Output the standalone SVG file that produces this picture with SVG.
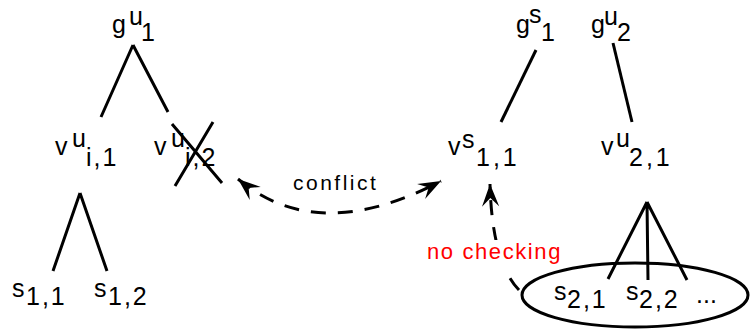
<svg xmlns="http://www.w3.org/2000/svg" width="750" height="330" viewBox="0 0 750 330">
<style>
text{font-family:"Liberation Sans",Arial,sans-serif;font-size:25px;fill:#000}
.sub{letter-spacing:2px}
.edge{stroke:#000;stroke-width:3;fill:none;stroke-linecap:butt}
.dash{stroke:#000;stroke-width:3;fill:none;stroke-dasharray:15 12}
.lbl{font-size:21px;letter-spacing:2.5px}
.red{font-size:22px;letter-spacing:1.6px;fill:#f00}
</style>
<defs>
<marker id="ah" markerUnits="userSpaceOnUse" markerWidth="30" markerHeight="30" viewBox="-24 -12 28 24" refX="0" refY="0" orient="auto-start-reverse">
<path d="M0,0 L-21,-8 L-13,0 L-21,8 Z" fill="#000"/>
</marker>
</defs>
<rect width="750" height="330" fill="#fff"/>
<g id="connectors">
<path class="edge" d="M133,45 L101,117 M133,45 L168,112"/>
<path class="edge" d="M80,193 L53,271 M80,193 L107,271"/>
<path class="edge" d="M536,50 L501,122"/>
<path class="edge" d="M613,43 L632,122"/>
<path class="edge" d="M647,202 L608,279 M647,202 L648,280 M647,202 L687,280"/>
<path class="dash" d="M238,179 Q318,246 441,181" marker-start="url(#ah)" marker-end="url(#ah)"/>
<path class="dash" d="M519,290 Q492,262 490,184" marker-end="url(#ah)"/>
</g>
<g id="gu1"><text x="112" y="33">g</text><text x="129" y="25">u</text><text x="141" y="41">1</text></g>
<g id="vui1"><text x="55" y="155">v</text><text x="72" y="147">u</text><text class="sub" x="86" y="166">i,1</text></g>
<g id="vui2"><text x="154" y="155">v</text><text x="171" y="147">u</text><text class="sub" x="185" y="166">i,2</text>
<path class="edge" d="M172,124 L222,183 M213,122 L175,186"/></g>
<g id="s11"><text x="12" y="297">s</text><text class="sub" x="26" y="305">1,1</text></g>
<g id="s12"><text x="94" y="297">s</text><text class="sub" x="108" y="305">1,2</text></g>
<g id="gs1"><text x="516" y="33">g</text><text x="529" y="23">s</text><text x="541" y="41">1</text></g>
<g id="gu2"><text x="591" y="33">g</text><text x="604" y="25">u</text><text x="617" y="41">2</text></g>
<g id="vs11"><text x="448" y="155">v</text><text x="462" y="148">s</text><text class="sub" x="476" y="166" style="letter-spacing:3px">1,1</text></g>
<g id="vu21"><text x="601" y="155">v</text><text x="616" y="147">u</text><text class="sub" x="629" y="166" style="letter-spacing:3px">2,1</text></g>
<g id="set2">
<ellipse cx="635" cy="295" rx="113" ry="32" fill="none" stroke="#000" stroke-width="3"/>
<text x="554" y="300">s</text><text class="sub" x="567" y="308">2,1</text>
<text x="626" y="300">s</text><text class="sub" x="639" y="308">2,2</text>
<text x="696" y="303">...</text>
</g>
<g id="label-conflict"><text class="lbl" x="293" y="190">conflict</text></g>
<g id="label-nocheck"><rect x="480" y="240" width="40" height="30" fill="#fff"/><text class="red" x="427" y="259">no checking</text></g>
</svg>
